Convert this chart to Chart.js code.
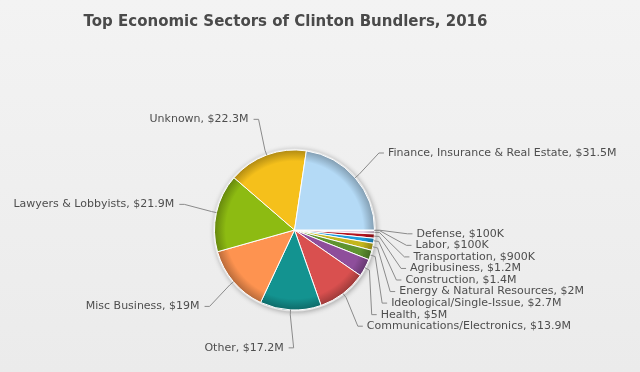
<!DOCTYPE html>
<html><head><meta charset="utf-8">
<script src="https://cdn.jsdelivr.net/npm/chart.js@4.4.1/dist/chart.umd.min.js"></script>
<style>
html,body{margin:0;padding:0;}
body{width:640px;height:372px;background:linear-gradient(#f3f3f3,#ebebeb);overflow:hidden;}
#wrap{position:relative;width:640px;height:372px;}
canvas{display:block;}
</style></head><body>
<div id="wrap"><canvas id="c" width="640" height="372"></canvas></div>
<script>
const titleText = 'Top Economic Sectors of Clinton Bundlers, 2016';
const categories = ['Defense','Labor','Transportation','Agribusiness','Construction',
  'Energy & Natural Resources','Ideological/Single-Issue','Health','Communications/Electronics',
  'Other','Misc Business','Lawyers & Lobbyists','Unknown','Finance, Insurance & Real Estate'];
const values = [0.1,0.1,0.9,1.2,1.4,2,2.7,5,13.9,17.2,19,21.9,22.3,31.5]; // $ millions
const valueLabels = ['$100K','$100K','$900K','$1.2M','$1.4M','$2M','$2.7M','$5M','$13.9M',
  '$17.2M','$19M','$21.9M','$22.3M','$31.5M'];
const colors = ['#d9d0e6','#c2c2c2','#e8cfe2','#b3141e','#1e9bdb','#c3b61c','#5f9330','#8e4e9b',
  '#d9504f','#139390','#fe9350','#8dbb12','#f5c01b','#b4daf6'];

const PIE_R = 80;
const LABEL_FONT = '11px "DejaVu Sans"';
const TITLE_FONT = 'bold 15px "DejaVu Sans"';
const SLOT_TOP = 49, SLOT_H = 11.55, LABEL_DIST = 118;

function shade(hex, f){
  const n = parseInt(hex.slice(1),16);
  const r = Math.round(((n>>16)&255)*f), g = Math.round(((n>>8)&255)*f), b = Math.round((n&255)*f);
  return 'rgb('+r+','+g+','+b+')';
}

// Highcharts-like slot distribution: nearest free slot, else next free slot below;
// labels with no occupied neighbouring slot keep their natural position
function distribute(group, bottom){
  const n = Math.floor((bottom - SLOT_TOP)/SLOT_H) + 1;
  const taken = new Array(n).fill(false);
  group.forEach(o=>{
    let k = Math.round((o.ny - SLOT_TOP)/SLOT_H);
    k = Math.max(0, Math.min(n-1, k));
    while(k < n-1 && taken[k]) k++;
    taken[k] = true;
    o.k = k;
    o.y = SLOT_TOP + k*SLOT_H;
  });
  group.forEach(o=>{
    const above = o.k > 0 && taken[o.k-1];
    const below = o.k < n-1 && taken[o.k+1];
    if(!above && !below) o.y = o.ny;
  });
}

const piePlugin = {
  id:'pieDecor',
  beforeDraw(chart){
    const ctx = chart.ctx;
    ctx.save();
    ctx.font = TITLE_FONT;
    ctx.fillStyle = '#4a4a4a';
    ctx.textAlign = 'center';
    ctx.textBaseline = 'middle';
    ctx.fillText(titleText, 285.5, 22);
    ctx.restore();
  },
  beforeDatasetsDraw(chart){
    const arc = chart.getDatasetMeta(0).data[0];
    if(!arc) return;
    const ctx = chart.ctx;
    ctx.save();
    ctx.shadowColor = 'rgba(0,0,0,0.30)';
    ctx.shadowBlur = 5;
    ctx.shadowOffsetX = 1;
    ctx.shadowOffsetY = 1;
    ctx.beginPath();
    ctx.arc(arc.x, arc.y, arc.outerRadius + 1.5, 0, Math.PI*2);
    ctx.fillStyle = '#e6e6e6';
    ctx.fill();
    ctx.restore();
  },
  afterDatasetsDraw(chart){
    const meta = chart.getDatasetMeta(0);
    const ctx = chart.ctx;
    const R2 = LABEL_DIST;
    const items = meta.data.map((arc,i)=>{
      const mid = (arc.startAngle + arc.endAngle)/2;
      const ny = arc.y + R2*Math.sin(mid);
      return {i, arc, mid, left: Math.cos(mid) < 0, ny, y: ny};
    });
    [true,false].forEach(side=>{
      const g = items.filter(o=>o.left===side).sort((a,b)=>a.ny-b.ny);
      if(g.length) distribute(g, g[0].arc.y + R2 + SLOT_H);
    });
    ctx.save();
    ctx.font = LABEL_FONT;
    ctx.textBaseline = 'middle';
    items.forEach(o=>{
      const a = o.arc, cx = a.x, cy = a.y, r = a.outerRadius;
      const dy = Math.max(-R2, Math.min(R2, o.y - cy));
      const dx = Math.sqrt(R2*R2 - dy*dy);
      const s = o.left ? -1 : 1;
      const ax = cx + s*(dx - 5);
      const ex = cx + r*Math.cos(o.mid), ey = cy + r*Math.sin(o.mid);
      const bx = cx + (r+5)*Math.cos(o.mid), by = cy + (r+5)*Math.sin(o.mid);
      ctx.beginPath();
      ctx.moveTo(ax + s*5, o.y);
      ctx.lineTo(ax, o.y);
      ctx.lineTo(bx, by);
      ctx.lineTo(ex, ey);
      ctx.strokeStyle = '#8a8a8a';
      ctx.lineWidth = 1;
      ctx.stroke();
      ctx.fillStyle = '#4e4e4e';
      ctx.textAlign = o.left ? 'right' : 'left';
      ctx.fillText(categories[o.i] + ', ' + valueLabels[o.i], ax + s*(o.left ? 10 : 9), o.y);
    });
    ctx.restore();
  }
};

new Chart(document.getElementById('c'), {
  type:'pie',
  data:{
    labels: categories,
    datasets:[{
      data: values,
      backgroundColor: (c)=>{
        const base = colors[c.dataIndex];
        const a = c.chart.chartArea;
        if(!a || c.dataIndex === undefined) return base;
        const cx = (a.left+a.right)/2, cy = (a.top+a.bottom)/2;
        const g = c.chart.ctx.createRadialGradient(cx,cy,0,cx,cy,PIE_R);
        g.addColorStop(0, base);
        g.addColorStop(0.86, base);
        g.addColorStop(1, shade(base,0.72));
        return g;
      },
      borderColor:'#ffffff',
      borderWidth:1
    }]
  },
  options:{
    responsive:false,
    animation:false,
    rotation:90,
    radius:PIE_R,
    layout:{padding:{left:214, right:265, top:150, bottom:62}},
    plugins:{legend:{display:false}, tooltip:{enabled:false}, title:{display:false}}
  },
  plugins:[piePlugin]
});
</script>
</body></html>
